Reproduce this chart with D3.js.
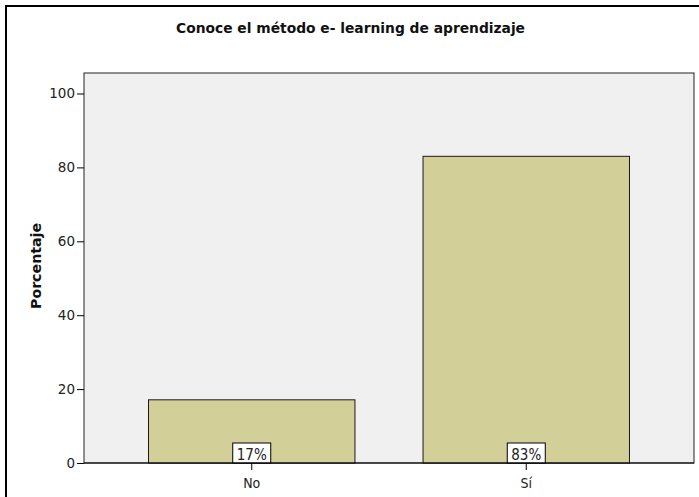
<!DOCTYPE html>
<html><head><meta charset="utf-8">
<script src="https://cdn.jsdelivr.net/npm/d3@7"></script>
<style>body{margin:0;background:#fff}svg{display:block}</style>
</head><body>
<script>
const categories = ["No", "Sí"];
const values = [17.1, 83.0];
const labels = ["17%", "83%"];
const yTicks = [0, 20, 40, 60, 80, 100];
const title = "Conoce el método e- learning de aprendizaje";
const yTitle = "Porcentaje";

const W = 699, H = 497;
const svg = d3.select("body").append("svg").attr("width", W).attr("height", H);
const font = "'DejaVu Sans', Verdana, sans-serif";
const fontC = "'DejaVu Sans Condensed', 'DejaVu Sans', sans-serif";

// outer frame
svg.append("rect").attr("x", 6).attr("y", 6).attr("width", 760).attr("height", 560)
  .attr("fill", "none").attr("stroke", "#000").attr("stroke-width", 2);

const plot = {left: 84, right: 694, top: 73, bottom: 463};
const y = d3.scaleLinear().domain([0, 100]).range([plot.bottom, plot.bottom - 369.5]);
const x = d3.scaleBand().domain(categories).range([plot.left, plot.right])
  .paddingInner(0.248).paddingOuter(0.235);

svg.append("rect").attr("x", plot.left).attr("y", plot.top)
  .attr("width", plot.right - plot.left).attr("height", plot.bottom - plot.top)
  .attr("fill", "#f0f0f0").attr("stroke", "#222").attr("stroke-width", 1);

svg.selectAll("rect.bar").data(values).join("rect").attr("class", "bar")
  .attr("x", (d, i) => x(categories[i]))
  .attr("y", d => y(d))
  .attr("width", x.bandwidth())
  .attr("height", d => y(0) - y(d))
  .attr("fill", "#d3cf99").attr("stroke", "#1a1a1a").attr("stroke-width", 1);

// labels
const lg = svg.selectAll("g.lab").data(labels).join("g").attr("class", "lab")
  .attr("transform", (d, i) => `translate(${x(categories[i]) + x.bandwidth() / 2},${y(0)})`);
lg.append("rect").attr("x", -19).attr("y", -20).attr("width", 38).attr("height", 20)
  .attr("fill", "#fff").attr("stroke", "#000").attr("stroke-width", 1);
lg.append("text").attr("x", 0).attr("y", -3).attr("text-anchor", "middle")
  .attr("font-family", fontC).attr("font-size", 15).attr("fill", "#222").text(d => d);

// axes
const ya = svg.append("g").attr("transform", `translate(${plot.left},0)`)
  .call(d3.axisLeft(y).tickValues(yTicks).tickSize(7).tickPadding(2).tickSizeOuter(0));
ya.select(".domain").remove();
ya.selectAll("line").attr("stroke", "#000");
ya.selectAll("text").attr("font-family", font).attr("font-size", 13.5).attr("fill", "#222");

const xa = svg.append("g").attr("transform", `translate(0,${plot.bottom})`)
  .call(d3.axisBottom(x).tickSize(7).tickPadding(5).tickSizeOuter(0));
xa.select(".domain").remove();
xa.selectAll("line").attr("stroke", "#000");
xa.selectAll("text").attr("font-family", fontC).attr("font-size", 14).attr("fill", "#222")
  .attr("dy", "0.95em");

svg.append("line").attr("x1", plot.left).attr("x2", plot.right).attr("y1", plot.bottom).attr("y2", plot.bottom)
  .attr("stroke", "#000");

svg.append("text").attr("x", 350.5).attr("y", 33).attr("text-anchor", "middle")
  .attr("font-family", fontC).attr("font-weight", "bold").attr("font-size", 14)
  .attr("textLength", 349).attr("lengthAdjust", "spacingAndGlyphs")
  .attr("fill", "#111").text(title);

svg.append("text").attr("transform", "translate(41,266) rotate(-90)").attr("text-anchor", "middle")
  .attr("font-family", fontC).attr("font-weight", "bold").attr("font-size", 14)
  .attr("textLength", 86).attr("lengthAdjust", "spacingAndGlyphs")
  .attr("fill", "#111").text(yTitle);
</script>
</body></html>
